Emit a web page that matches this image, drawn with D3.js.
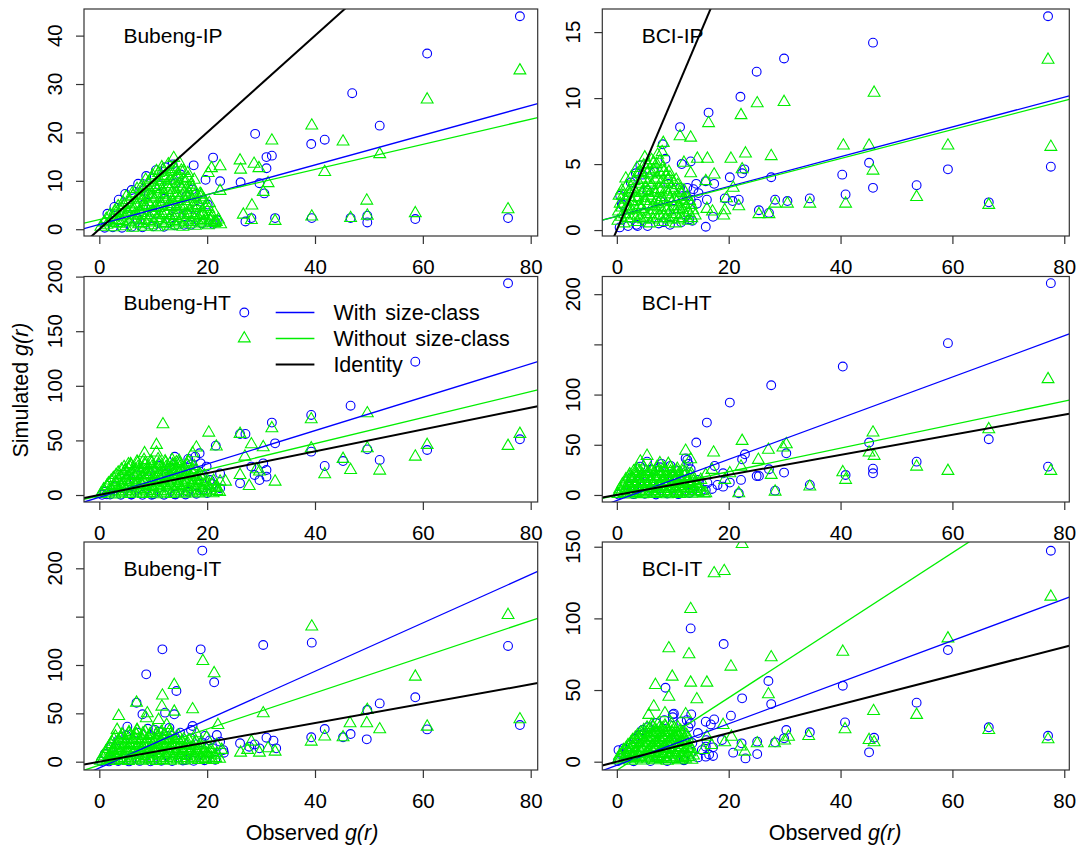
<!DOCTYPE html>
<html><head><meta charset="utf-8">
<script src="https://cdn.jsdelivr.net/npm/d3@7"></script>
<style>
body{margin:0;background:#fff}
svg text{font-family:Arial,"Liberation Sans",sans-serif;fill:#000}
</style></head>
<body><svg id="c" width="1078" height="848"></svg>
<script>
// ---------- DATA ----------
const panelNames = ["Bubeng-IP","BCI-IP","Bubeng-HT","BCI-HT","Bubeng-IT","BCI-IT"];
const legendLabels = ["With size-class","Without size-class","Identity"];
const xTickValues = [0,20,40,60,80];
const yTickValues = [[0,10,20,30,40],[0,5,10,15],[0,50,100,150,200],[0,50,100,150,200],[0,50,100,150,200],[0,50,100,150]];
const yTickLabels = [["0","10","20","30","40"],["0","5","10","15"],["0","50","100","150","200"],["0","50","100","","200"],["0","50","100","","200"],["0","50","100","150"]];
// fitted lines: [intercept, slope]
const withSizeClassFit = [[1.0,0.307],[1.05,0.1127],[-2.1,1.527],[-5.5,2.05],[-6.5,2.5],[-2.5,1.45]];
const withoutSizeClassFit = [[2.0,0.259],[1.04,0.1095],[-0.5,1.19],[-0.24,1.172],[-3.6,1.868],[-6,2.53]];
const identityFit = [0,1];

const bubengIP_with = [[78.0,44.0],[60.8,36.3],[46.9,28.1],[52.0,21.4],[28.9,19.7],[39.3,17.6],[41.8,18.5],[21.1,14.8],[32.0,15.2],[31.0,14.9],[31.0,12.6],[26.2,9.7],[29.7,9.5],[30.6,7.4],[22.4,9.9],[19.7,10.2],[17.5,13.2],[14.1,9.5],[8.7,11.0],[16.1,6.8],[19.2,6.1],[27.1,1.6],[28.2,2.3],[32.6,2.3],[39.4,2.3],[46.6,2.3],[49.7,2.8],[49.7,1.4],[58.6,2.1],[75.8,2.3],[21.8,1.9],[21.1,1.1],[15.7,0.9],
[1.5,3.2],[2.8,4.6],[3.6,6.1],[4.8,7.3],[6.0,8.1],[7.2,9.4],[10.5,12.2],[12.3,12.8],[13.6,13.4],[1.0,0.3],[2.5,0.4],[4.2,0.3],[6.0,0.5],[8.0,0.4],[10.0,0.6],[12.0,0.5],[14.0,0.8],[17.0,0.9],[19.0,1.2],[5.1,3.0],[8.2,5.1],[10.3,3.2],[12.1,6.3],[14.2,4.1],[16.3,3.1],[18.1,4.2],[11.2,9.1],[15.1,11.3],[17.2,8.2],[20.1,5.1],[13.1,2.2],[7.1,2.1],[9.2,7.2]];
const bubengIP_without = [[78.0,32.8],[60.8,26.8],[39.4,21.4],[32.0,18.3],[45.2,18.1],[52.0,15.5],[41.8,11.8],[26.1,14.2],[26.2,12.3],[28.7,13.5],[29.6,12.6],[31.3,9.5],[30.4,7.7],[22.4,13.0],[20.8,12.6],[20.2,11.6],[22.4,7.9],[13.8,14.7],[49.6,5.9],[28.3,4.9],[26.7,3.0],[28.2,1.9],[32.6,1.7],[39.4,2.6],[46.6,2.3],[49.7,2.8],[58.6,3.3],[75.8,4.1],[18.9,7.1],[17.6,10.2],[16.4,11.6],[19.2,3.0],[20.5,1.9],[21.5,1.6],
[0.3,0.5],[1.4,0.9],[2.6,0.4],[3.7,1.1],[4.9,0.6],[6.2,0.3],[7.3,1.0],[8.5,0.5],[9.6,0.8],[10.8,0.4],[12.0,1.0],[13.1,0.6],[14.3,0.9],[15.5,0.5],[16.6,1.1],[17.8,0.7],[19.0,1.2],[20.2,0.8],[21.4,1.3],[22.5,1.0],
[1.3,2.1],[2.5,2.5],[3.6,1.9],[4.8,2.6],[6.0,2.2],[7.1,2.8],[8.3,2.0],[9.4,2.6],[10.6,2.3],[11.8,2.9],[12.9,2.1],[14.1,2.7],[15.2,2.3],[16.4,2.9],[17.5,2.4],[18.7,2.8],[19.8,2.2],[21.0,2.6],[22.1,2.0],
[2.9,3.8],[4.1,4.3],[5.2,3.6],[6.4,4.2],[7.5,3.9],[8.7,4.5],[9.8,3.7],[11.0,4.4],[12.1,3.8],[13.3,4.6],[14.4,4.0],[15.6,4.5],[16.7,3.9],[17.9,4.4],[19.1,3.6],[20.3,4.2],[21.3,3.5],
[4.4,5.5],[5.6,6.0],[6.7,5.3],[7.9,6.1],[9.0,5.6],[10.2,6.3],[11.3,5.5],[12.5,6.2],[13.6,5.7],[14.8,6.4],[15.9,5.8],[17.1,6.3],[18.2,5.6],[19.4,6.1],[20.4,5.4],
[6.1,7.4],[7.3,7.0],[8.4,7.8],[9.6,7.2],[10.7,8.0],[11.9,7.4],[13.0,8.1],[14.2,7.5],[15.3,8.2],[16.5,7.6],[17.6,8.0],[18.7,7.3],
[7.9,9.0],[9.1,9.6],[10.2,9.1],[11.4,9.8],[12.5,9.3],[13.7,10.0],[14.8,9.4],[16.0,9.9],[17.0,9.2],
[9.9,11.1],[11.0,11.6],[12.2,11.0],[13.3,11.8],[14.5,11.3],[15.6,12.0],
[11.6,12.8],[12.8,13.4],[13.9,12.9],[14.9,13.6],
[0.9,1.4],[2.0,1.6],[3.2,1.3],[4.3,1.7],[5.5,1.4],[6.7,1.8],[7.8,1.3],[9.0,1.7],[10.1,1.4],[11.3,1.8],[12.4,1.3],[13.6,1.7],[14.8,1.4],[15.9,1.8],[17.1,1.5],[18.2,1.9],[19.4,1.6],[20.6,1.9],[21.7,1.5],
[2.0,3.0],[3.1,3.3],[4.3,2.9],[5.4,3.4],[6.6,3.0],[7.7,3.3],[8.9,2.9],[10.0,3.4],[11.2,3.0],[12.4,3.3],[13.5,2.9],[14.7,3.4],[15.8,3.0],[17.0,3.3],[18.1,2.9],[19.3,3.2],[20.5,2.8],
[3.5,4.7],[4.7,5.0],[5.8,4.6],[7.0,5.1],[8.1,4.7],[9.3,5.0],[10.4,4.6],[11.6,5.1],[12.7,4.8],[13.9,5.2],[15.0,4.8],[16.2,5.1],[17.3,4.7],[18.5,5.0],[19.6,4.6],
[5.0,6.7],[6.2,6.9],[7.3,6.5],[8.5,6.9],[9.6,6.6],[10.8,7.0],[11.9,6.6],[13.1,7.0],[14.2,6.7],[15.4,7.1],[16.5,6.7],[17.7,7.0],[18.8,6.6],
[7.0,8.3],[8.2,8.6],[9.3,8.2],[10.5,8.7],[11.6,8.3],[12.8,8.8],[13.9,8.4],[15.1,8.8],[16.2,8.4],[17.3,8.7],
[8.6,10.2],[9.8,10.5],[10.9,10.1],[12.1,10.6],[13.2,10.2],[14.4,10.7],[15.5,10.3],[16.5,10.6],
[10.6,12.0],[11.8,12.3],[12.9,11.9],[14.1,12.4],[15.2,12.1]];

const bciIP_with = [[77.1,16.2],[45.8,14.2],[29.9,13.0],[25.0,12.0],[22.1,10.1],[16.4,8.9],[11.3,7.8],[8.2,6.5],[8.7,5.4],[11.6,5.0],[13.2,5.2],[45.1,5.1],[77.6,4.8],[59.2,4.6],[22.8,4.6],[22.4,4.3],[20.2,4.0],[27.6,4.0],[40.3,4.2],[45.8,3.2],[53.6,3.4],[40.9,2.7],[14.2,3.5],[17.4,3.5],[15.9,3.7],[12.6,3.2],[13.2,2.3],[16.1,2.3],[19.3,2.4],[21.8,2.3],[20.7,2.2],[28.3,2.3],[30.5,2.2],[34.5,2.4],[66.5,2.1],[25.4,1.5],[27.2,1.3],[15.9,0.25],[17.2,1.0],[12.9,0.8],[8.3,0.6],[3.7,0.3],[4.6,4.2],[0.9,2.0],
[0.5,0.2],[2.0,0.3],[3.5,0.4],[5.5,0.3],[7.5,0.5],[9.5,0.4],[11.5,0.6],[13.5,0.7],[1.0,1.9],[0.6,2.6],[2.5,3.6],[3.4,4.3],[4.2,4.9],[5.5,3.0],[7.8,2.2],[10.2,1.6],[12.4,2.6],[14.3,2.0],[6.8,4.4],[9.2,3.5],[11.3,3.2],[13.7,3.1],[14.6,2.8]];
const bciIP_without = [[77.1,12.9],[46.0,10.4],[25.1,9.6],[29.9,9.7],[22.2,8.7],[16.4,8.1],[11.3,7.1],[13.2,7.0],[8.3,6.6],[77.6,6.3],[40.5,6.4],[45.1,6.4],[59.2,6.4],[27.6,5.6],[23.0,5.8],[20.4,5.4],[16.2,5.4],[14.4,5.4],[12.0,5.1],[13.2,4.3],[17.4,4.2],[22.4,4.6],[45.8,4.5],[20.8,3.2],[15.9,3.7],[53.6,2.5],[40.9,2.0],[34.5,2.0],[30.5,2.0],[28.3,2.0],[21.8,1.8],[19.3,1.5],[19.1,1.1],[16.1,1.6],[17.1,1.4],[25.4,1.2],[27.2,1.2],[66.5,1.9],[19.6,2.4],
[0.2,0.7],[1.3,0.5],[2.5,0.9],[3.6,0.6],[4.8,0.8],[5.9,0.5],[7.1,0.9],[8.2,0.6],[9.4,0.8],[10.5,0.5],[11.7,0.9],[12.8,0.7],
[0.3,1.4],[1.4,1.2],[2.6,1.5],[3.7,1.1],[4.9,1.4],[6.0,1.2],[7.2,1.5],[8.3,1.1],[9.5,1.4],[10.6,1.2],[11.8,1.5],[12.9,1.3],[14.0,1.1],
[0.6,2.0],[1.8,1.8],[2.9,2.1],[4.1,1.9],[5.2,2.2],[6.4,1.8],[7.5,2.0],[8.7,1.7],[9.8,2.1],[11.0,1.8],[12.1,2.0],[13.3,1.9],
[1.1,2.6],[2.3,2.8],[3.4,2.5],[4.6,2.9],[5.7,2.6],[6.9,2.8],[8.0,2.5],[9.2,2.7],[10.3,2.4],[11.5,2.8],[12.6,2.5],
[1.7,3.3],[2.9,3.1],[4.0,3.5],[5.2,3.2],[6.3,3.4],[7.5,3.1],[8.6,3.5],[9.8,3.2],[10.9,3.4],[12.0,3.0],
[2.6,4.0],[3.8,4.3],[4.9,3.9],[6.1,4.2],[7.2,3.9],[8.4,4.4],[9.5,4.0],[10.6,3.8],
[3.6,4.7],[4.8,4.9],[5.9,4.6],[7.1,5.0],[8.2,4.7],[9.3,4.4],
[5.0,5.5],[6.2,5.3],[7.3,5.7],[8.1,5.9],[0.4,2.6],[0.9,3.0],[1.6,3.9],
[0.8,1.0],[1.9,0.9],[3.1,1.1],[4.2,0.9],[5.4,1.0],[6.5,0.8],[7.7,1.1],[8.8,0.9],[10.0,1.0],[11.1,0.8],[12.3,1.1],[13.4,0.9],
[0.9,1.7],[2.0,1.5],[3.2,1.7],[4.3,1.6],[5.5,1.8],[6.6,1.5],[7.8,1.7],[8.9,1.5],[10.1,1.8],[11.2,1.6],[12.4,1.7],[13.6,1.5],
[1.5,2.3],[2.6,2.2],[3.8,2.4],[4.9,2.2],[6.1,2.4],[7.2,2.3],[8.4,2.2],[9.5,2.4],[10.7,2.1],[11.8,2.3],[13.0,2.2],
[2.1,2.9],[3.2,3.0],[4.4,2.8],[5.5,3.0],[6.7,2.9],[7.9,3.0],[9.0,2.9],[10.2,3.0],[11.3,2.9],
[3.1,3.7],[4.4,3.8],[5.6,3.6],[6.8,3.8],[7.9,3.6],[9.1,3.8],[10.2,3.6],
[4.2,4.4],[5.4,4.3],[6.6,4.5],[7.7,4.3],[8.8,4.2],
[5.4,5.0],[6.6,5.1],[7.7,5.2]];

const bubengHT_with = [[75.8,193.9],[58.6,122.1],[46.6,81.8],[39.3,73.3],[32.0,66.3],[26.1,55.9],[27.1,55.9],[32.6,47.3],[21.6,45.2],[49.7,41.8],[39.3,39.7],[60.8,41.2],[78.0,51.0],[52.0,32.1],[45.2,31.1],[41.8,26.6],[17.8,35.1],[18.6,38.2],[28.2,26.0],[30.4,29.0],[31.0,22.9],[28.8,18.3],[31.0,16.8],[29.7,13.7],[26.1,10.7],[22.4,19.8],[22.4,6.1],[16.4,3.0],[19.2,4.6],[14.1,0.4],[9.7,0.3],[5.9,0.5],[1.4,0.6],[19.9,26.0],[20.5,13.7],
[0.5,0.2],[2.0,0.5],[4.0,0.3],[6.0,0.4],[8.0,0.2],[10.0,0.6],[12.0,0.3],[14.0,0.8],[16.0,0.5],[18.0,1.2],[20.0,1.8],[1.0,3.0],[3.0,8.0],[5.0,14.0],[7.0,18.0],[9.0,22.0],[11.0,27.0],[13.0,25.0],[15.0,22.0],[17.0,28.0],[19.0,18.0],[21.0,10.0],[16.5,33.0],[14.0,35.0],[12.5,20.0],[18.8,29.0]];
const bubengHT_without = [[78.0,55.9],[75.8,44.9],[49.7,74.8],[39.3,69.3],[32.0,61.1],[26.1,55.9],[28.2,46.4],[30.4,43.7],[60.8,45.8],[58.6,35.1],[49.7,42.7],[39.3,42.7],[45.2,33.0],[27.0,35.1],[46.6,22.9],[52.0,22.3],[41.8,18.9],[29.7,21.4],[29.1,23.5],[26.1,18.3],[32.6,12.2],[27.8,8.2],[20.3,57.1],[11.8,64.7],[10.6,45.8],[10.6,38.8],[8.4,38.2],[5.4,28.1],[18.0,43.4],[17.3,38.2],[14.3,29.9],[21.7,44.3],[22.4,12.2],[21.7,7.6],[23.4,12.2],
[0.3,1],[1.6,2],[2.9,0.5],[4.2,1.5],[5.5,0.8],[6.8,2],[8.1,1],[9.4,1.8],[10.7,0.6],[12.0,1.5],[13.3,0.9],[14.6,2],[15.9,1.2],[17.2,2.2],[18.5,1.4],[19.8,2.5],[21.1,1.6],[22.3,2.8],
[0.8,5],[2.1,6.5],[3.4,5.5],[4.7,7],[6.0,5.8],[7.3,6.8],[8.6,5.3],[9.9,7.2],[11.2,6],[12.5,7.5],[13.8,5.6],[15.1,6.9],[16.4,5.9],[17.7,7.3],[19.0,6.2],[20.3,7.7],[21.6,6.5],
[1.7,10.5],[3.0,11.8],[4.3,10.2],[5.6,12],[6.9,11],[8.2,12.5],[9.5,10.6],[10.8,12.2],[12.1,11],[13.4,12.6],[14.7,10.8],[16.0,12.1],[17.3,11.2],[18.6,12.8],[19.9,11.5],[21.2,13],
[2.6,15.5],[3.9,17],[5.2,15.8],[6.5,17.3],[7.8,16],[9.1,17.6],[10.4,15.7],[11.7,17.2],[13.0,16.1],[14.3,17.5],[15.6,15.9],[16.9,17.1],[18.2,16.3],[19.5,17.8],
[3.5,20.5],[4.8,22],[6.1,20.8],[7.4,22.4],[8.7,21],[10.0,22.6],[11.3,20.7],[12.6,22.2],[13.9,21.1],[15.2,22.5],[16.5,21],[17.8,22.3],
[4.6,25.5],[5.9,27],[7.2,25.8],[8.5,27.3],[9.8,26],[11.1,27.6],[12.4,25.7],[13.7,27.2],[15.0,26.1],[16.3,27],[17.6,26.4],
[7.0,30.5],[8.3,32],[9.6,31],[10.9,32.6],[12.2,30.8],[13.5,32.1],[14.8,31.2],[16.5,30.4],
[1.0,3.2],[2.3,3.8],[3.6,3.0],[4.9,3.9],[6.2,3.3],[7.5,4.0],[8.8,3.1],[10.1,3.7],[11.4,3.3],[12.7,3.9],[14.0,3.2],[15.3,3.8],[16.6,3.4],[17.9,4.1],[19.2,3.5],[20.5,4.2],[21.8,3.6],
[1.4,8.2],[2.7,9.0],[4.0,8.3],[5.3,9.1],[6.6,8.4],[7.9,9.2],[9.2,8.1],[10.5,8.9],[11.8,8.5],[13.1,9.3],[14.4,8.2],[15.7,9.0],[17.0,8.6],[18.3,9.4],[19.6,8.7],[20.9,9.5],
[2.2,13.2],[3.5,14.0],[4.8,13.3],[6.1,14.1],[7.4,13.4],[8.7,14.2],[10.0,13.1],[11.3,13.9],[12.6,13.5],[13.9,14.3],[15.2,13.2],[16.5,14.0],[17.8,13.6],[19.1,14.4],
[3.1,18.2],[4.4,19.0],[5.7,18.3],[7.0,19.1],[8.3,18.4],[9.6,19.2],[10.9,18.1],[12.2,18.9],[13.5,18.5],[14.8,19.3],[16.1,18.2],[17.4,19.0],[18.7,18.6],
[4.1,23.2],[5.4,24.0],[6.7,23.3],[8.0,24.1],[9.3,23.4],[10.6,24.2],[11.9,23.1],[13.2,23.9],[14.5,23.5],[15.8,24.3],[17.1,23.2],
[5.8,28.2],[7.1,29.0],[8.4,28.3],[9.7,29.1],[11.0,28.4],[12.3,29.2],[13.6,28.1],[14.9,28.9],[16.2,28.5]];

const bciHT_with = [[77.6,211],[59.2,151.2],[40.4,127.9],[27.6,109.3],[20.2,92.0],[16.1,72.1],[14.2,52.2],[45.1,52.2],[66.5,55.5],[30.3,41.5],[22.9,40.5],[22.4,35.5],[53.6,33.2],[77.1,28.2],[45.8,26.2],[45.8,21.6],[40.9,19.9],[27.2,25.6],[29.9,22.3],[25.0,18.9],[25.4,18.9],[22.2,15.0],[19.0,21.6],[17.5,28.9],[19.0,8.3],[20.2,12.3],[34.5,10.0],[28.3,4.3],[21.8,1.7],[12.3,36.5],[12.6,34.9],[5.4,33.2],[4.2,28.2],[7.7,27.6],[13.2,25.6],[10.7,15],[13.2,5.0],[15.9,5.0],[4.6,8.3],
[0.3,0.4],[1.5,2.5],[3,0.8],[5,1.2],[7,0.5],[9,1.5],[11,0.8],[13,2],[15,3],[17,6],[2.2,8],[3.5,13],[5.2,20],[6.3,25],[8,31],[9.6,29],[11,24],[12.8,31],[14.5,15],[16.2,12],[18,10],[2.6,17],[7.5,10],[10,18]];
const bciHT_without = [[77.1,115.3],[45.8,62.1],[66.5,65.4],[22.4,53.8],[30.3,50.5],[27.1,44.9],[17.3,42.2],[12.3,43.9],[5.4,38.9],[4.2,33.2],[7.7,31.6],[9.2,30.9],[13.2,35.5],[25.3,34.9],[29.7,47.2],[45.1,42.2],[46.0,38.9],[53.6,28.2],[59.2,23.9],[77.6,23.9],[40.4,22.6],[40.9,15.0],[27.6,19.9],[22.2,28.2],[17.0,24.9],[15.9,19.9],[15.0,15.0],[34.5,8.3],[28.3,3.3],[21.8,1.7],[15.9,1.7],[10.7,1.7],[20.2,21.6],[19.3,15],
[0.2,1],[1.3,2],[2.4,0.5],[3.5,1.8],[4.6,0.8],[5.7,2.2],[6.8,1],[7.9,2],[9.0,0.6],[10.1,1.7],[11.2,0.9],[12.3,2.1],[13.4,1.2],[14.5,2.4],[15.6,1.5],
[0.5,5.5],[1.6,7],[2.7,5.8],[3.8,7.2],[4.9,5.4],[6.0,6.9],[7.1,5.7],[8.2,7.4],[9.3,6],[10.4,7.1],[11.5,5.6],[12.6,6.8],[13.7,5.9],[14.8,7.3],
[1.0,10.5],[2.1,12],[3.2,10.8],[4.3,12.3],[5.4,11],[6.5,12.5],[7.6,10.6],[8.7,12.1],[9.8,11.2],[10.9,12.6],[12.0,10.9],[13.1,12.2],[14.2,11],
[1.6,15.5],[2.7,17],[3.8,15.8],[4.9,17.3],[6.0,16],[7.1,17.6],[8.2,15.7],[9.3,17.2],[10.4,16.1],[11.5,17.5],[12.6,15.9],[13.7,17],
[2.3,20.5],[3.4,22],[4.5,20.8],[5.6,22.4],[6.7,21],[7.8,22.6],[8.9,20.7],[10.0,22.2],[11.1,21.1],[12.2,22.5],[13.3,21],
[3.6,26],[4.8,27.5],[6.0,26.2],[7.2,27.8],[8.4,26.5],[9.6,27.4],[10.8,26],[12.0,27.7],
[0.8,3.4],[1.9,3.9],[3.0,3.2],[4.1,3.8],[5.2,3.3],[6.3,3.9],[7.4,3.4],[8.5,3.8],[9.6,3.2],[10.7,3.7],[11.8,3.3],[12.9,3.9],[14.0,3.5],[15.1,3.8],
[1.1,8.3],[2.2,8.8],[3.3,8.2],[4.4,8.7],[5.5,8.4],[6.6,8.9],[7.7,8.2],[8.8,8.6],[9.9,8.3],[11.0,8.8],[12.1,8.4],[13.2,8.9],[14.3,8.5],
[1.6,13.3],[2.7,13.8],[3.8,13.2],[4.9,13.7],[6.0,13.4],[7.1,13.9],[8.2,13.2],[9.3,13.6],[10.4,13.3],[11.5,13.8],[12.6,13.4],[13.7,13.9],
[2.2,18.4],[3.3,18.9],[4.4,18.2],[5.5,18.7],[6.6,18.4],[7.7,18.9],[8.8,18.2],[9.9,18.6],[11.0,18.3],[12.1,18.8],[13.2,18.5],
[3.0,23.4],[4.1,23.9],[5.2,23.2],[6.3,23.7],[7.4,23.4],[8.5,23.9],[9.6,23.2],[10.7,23.6],[11.8,23.3]];

const bubengIT_with = [[19.1,218.3],[11.7,116.2],[18.8,116.2],[30.4,120.7],[39.4,123.1],[75.8,119.7],[8.7,90.3],[21.3,82.1],[14.3,73.1],[6.9,61.0],[8.0,49.0],[13.9,49.0],[12.2,50.7],[58.6,66.6],[52.0,60.3],[49.7,53.4],[5.2,36.2],[17.3,36.9],[17.0,32.8],[78.0,37.9],[60.8,33.4],[41.8,33.8],[46.6,28.6],[39.3,25.2],[45.2,25.2],[49.6,23.1],[21.8,27.6],[19.6,26.6],[31.0,24.8],[32.3,21.7],[32.8,13.8],[28.8,17.9],[26.1,19.0],[29.7,13.8],[27.8,15.5],[23.1,9.3],[22.4,20.7],[14.1,24.1],[10.3,32.8],[10,1.7],[5.9,1.7],[2.0,2.4],[16,1.7],
[0.3,0.4],[1.8,0.3],[3.5,0.6],[5.5,0.3],[7.5,0.8],[9.5,0.4],[11.5,0.9],[13.5,0.6],[15.5,1.2],[17.5,0.9],[19.5,1.5],[21.5,2],[1,8],[2.2,15],[3.5,22],[5,27],[7,30],[9,34],[11,31],[13,35],[15,30],[17,24],[19,20],[21,14],[23,12],[20.5,22]];
const bubengIT_without = [[39.4,139.7],[75.8,151.7],[19.2,104.1],[21.3,91.4],[58.6,87.9],[13.9,79.3],[11.7,68.3],[6.9,61.0],[11.6,56.9],[17.3,54.1],[8.9,50.0],[30.4,50.0],[13.9,51.7],[3.6,47.2],[8.7,44.8],[49.7,53.4],[49.6,39.7],[46.5,39.7],[78.0,43.8],[60.8,36.2],[52.0,33.4],[22.0,37.9],[3.3,32.8],[7.0,32.8],[12.5,37.9],[11.0,43.1],[41.8,25.9],[45.2,25.2],[39.3,20.7],[19.9,24.8],[18.0,29.3],[21.8,17.2],[26.2,9.3],[28.2,20.7],[29.7,9.3],[32.6,10.3],[31.3,13.8],[27.5,12.1],[19.9,8.6],[21.8,8.6],[22.7,12.1],
[0.2,1],[1.5,2],[2.8,0.6],[4.1,1.8],[5.4,0.8],[6.7,2.1],[8.0,1],[9.3,2],[10.6,0.7],[11.9,1.8],[13.2,1],[14.5,2.2],[15.8,1.3],[17.1,2.4],[18.4,1.6],[19.7,2.6],[21.0,1.8],[22.3,3],
[0.6,5.5],[1.9,7],[3.2,5.8],[4.5,7.2],[5.8,5.5],[7.1,7],[8.4,5.7],[9.7,7.3],[11.0,6],[12.3,7.1],[13.6,5.6],[14.9,6.8],[16.2,5.9],[17.5,7.3],[18.8,6.2],[20.1,7.5],[21.4,6.6],
[1.2,10.5],[2.5,12],[3.8,10.8],[5.1,12.3],[6.4,11],[7.7,12.5],[9.0,10.6],[10.3,12.1],[11.6,11.2],[12.9,12.6],[14.2,10.9],[15.5,12.2],[16.8,11],[18.1,12.4],[19.4,11.3],[20.7,12.8],
[1.8,15.5],[3.1,17],[4.4,15.8],[5.7,17.3],[7.0,16],[8.3,17.6],[9.6,15.7],[10.9,17.2],[12.2,16.1],[13.5,17.5],[14.8,15.9],[16.1,17],[17.4,16.2],[18.7,17.4],
[2.3,20.5],[3.6,22],[4.9,20.8],[6.2,22.4],[7.5,21],[8.8,22.6],[10.1,20.7],[11.4,22.2],[12.7,21.1],[14.0,22.5],[15.3,21],[16.6,22.3],[17.9,21.2],
[3.0,26],[4.3,27.5],[5.6,26.2],[6.9,27.8],[8.2,26.5],[9.5,27.4],[10.8,26],[12.1,27.7],[13.4,26.3],[14.7,27],
[5.5,30.5],[7.0,32],[8.5,31],[10.0,32.5],[11.5,30.8],[13.0,31.5],
[0.8,3.2],[2.1,3.8],[3.4,3.0],[4.7,3.9],[6.0,3.3],[7.3,4.0],[8.6,3.1],[9.9,3.7],[11.2,3.3],[12.5,3.9],[13.8,3.2],[15.1,3.8],[16.4,3.4],[17.7,4.1],[19.0,3.5],[20.3,4.2],[21.6,3.6],
[1.2,8.2],[2.5,9.0],[3.8,8.3],[5.1,9.1],[6.4,8.4],[7.7,9.2],[9.0,8.1],[10.3,8.9],[11.6,8.5],[12.9,9.3],[14.2,8.2],[15.5,9.0],[16.8,8.6],[18.1,9.4],[19.4,8.7],[20.7,9.5],
[1.6,13.2],[2.9,14.0],[4.2,13.3],[5.5,14.1],[6.8,13.4],[8.1,14.2],[9.4,13.1],[10.7,13.9],[12.0,13.5],[13.3,14.3],[14.6,13.2],[15.9,14.0],[17.2,13.6],[18.5,14.4],[19.8,13.7],
[2.1,18.2],[3.4,19.0],[4.7,18.3],[6.0,19.1],[7.3,18.4],[8.6,19.2],[9.9,18.1],[11.2,18.9],[12.5,18.5],[13.8,19.3],[15.1,18.2],[16.4,19.0],[17.7,18.6],
[2.7,23.2],[4.0,24.0],[5.3,23.3],[6.6,24.1],[7.9,23.4],[9.2,24.2],[10.5,23.1],[11.8,23.9],[13.1,23.5],[14.4,24.3],[15.7,23.2],
[4.2,28.2],[5.5,29.0],[6.8,28.3],[8.1,29.1],[9.4,28.4],[10.7,29.2],[12.0,28.1],[13.3,28.9]];

const bciIT_with = [[77.6,147.2],[13.2,93.0],[19.1,82.1],[59.2,77.9],[8.7,51.6],[40.4,53.0],[27.1,56.3],[27.6,40.2],[22.4,44.2],[53.6,41.2],[20.4,32.1],[17.4,29.5],[15.9,27.9],[40.8,27.4],[10.0,33.0],[13.2,26.7],[30.3,22.1],[34.5,20.5],[66.5,24.0],[77.1,18.1],[46.0,16.7],[45.1,6.5],[29.9,16.3],[28.3,13.5],[25.1,14.0],[25.1,5.3],[22.3,12.8],[20.8,6.3],[23.0,2.3],[18.8,15.1],[15.9,10.5],[15.9,3.5],[17.2,4.0],[12.0,1.2],[0.3,8.1],[1.2,9.3],[4.0,18.6],[4.6,22.1],
[0.2,0.5],[0.8,5],[1.8,7],[2.5,12],[3.2,16],[4.5,19],[5.5,24],[7,27],[8.5,29],[10,31],[11.5,28],[12.8,24],[14.5,20],[16,15],[17.2,10],[16.5,5],[14.5,3],[12,1],[9,0.5],[6,0.4],[3,0.3],[13.5,13],[15.2,8],[11,18],[7,20],[16.8,26],[13.3,33],[10.2,33.5],[12.5,29]];
const bciIT_without = [[22.4,151.9],[17.4,131.4],[19.2,133.0],[13.2,106.5],[77.6,115.1],[59.2,86.0],[9.3,79.1],[12.9,74.9],[27.6,72.8],[40.4,76.7],[20.4,66.3],[9.9,59.3],[6.9,53.5],[13.2,55.1],[16.1,55.1],[9.3,45.3],[14.3,43.5],[27.1,47.0],[6.6,38.4],[5.7,32.6],[8.6,33.7],[12.3,33.0],[45.9,35.3],[53.6,32.6],[19.0,25.6],[40.8,22.6],[66.5,22.1],[34.3,17.9],[30.7,17.4],[30.0,14.7],[45.1,15.1],[46.0,13.5],[77.1,15.6],[25.1,12.8],[28.2,12.8],[22.1,10.5],[22.9,7.0],[19.3,13.5],[15.5,8.1],[16.9,11.6],[16.1,17.4],[20.5,17.4],
[0.2,1],[1.3,2],[2.4,0.6],[3.5,1.7],[4.6,0.8],[5.7,2],[6.8,1],[7.9,1.9],[9.0,0.7],[10.1,1.8],[11.2,1],[12.3,2.1],[13.4,1.3],
[0.5,4.3],[1.6,5.2],[2.7,4],[3.8,5.4],[4.9,4.2],[6.0,5.1],[7.1,4],[8.2,5.3],[9.3,4.4],[10.4,5.5],[11.5,4.1],[12.6,5],[13.7,4.3],
[1.2,8],[2.3,9],[3.4,7.7],[4.5,9.1],[5.6,7.9],[6.7,9.2],[7.8,7.6],[8.9,8.9],[10.0,8],[11.1,9.3],[12.2,7.8],[13.3,8.7],
[2.0,11.5],[3.1,12.5],[4.2,11.2],[5.3,12.6],[6.4,11.4],[7.5,12.7],[8.6,11.1],[9.7,12.4],[10.8,11.6],[11.9,12.8],[13.0,11.3],
[2.8,15],[3.9,16],[5.0,14.8],[6.1,16.2],[7.2,15],[8.3,16.3],[9.4,14.7],[10.5,16],[11.6,15.2],[12.7,16.1],
[3.7,18.5],[4.8,19.6],[5.9,18.2],[7.0,19.7],[8.1,18.4],[9.2,19.8],[10.3,18.3],[11.4,19.5],[12.5,18.6],
[4.8,22],[5.9,23],[7.0,21.8],[8.1,23.2],[9.2,22],[10.3,23.1],[11.4,21.7],
[6.2,25.5],[7.4,26.5],[8.6,25.2],[9.8,26.3],
[0.7,2.7],[1.8,3.0],[2.9,2.6],[4.0,3.1],[5.1,2.7],[6.2,3.0],[7.3,2.6],[8.4,3.1],[9.5,2.8],[10.6,3.0],[11.7,2.6],[12.8,3.1],
[1.0,6.2],[2.1,6.6],[3.2,6.0],[4.3,6.5],[5.4,6.1],[6.5,6.6],[7.6,6.0],[8.7,6.4],[9.8,6.2],[10.9,6.6],[12.0,6.0],[13.1,6.5],
[1.7,9.7],[2.8,10.1],[3.9,9.5],[5.0,10.0],[6.1,9.6],[7.2,10.2],[8.3,9.5],[9.4,10.0],[10.5,9.7],[11.6,10.1],[12.7,9.6],
[2.5,13.2],[3.6,13.6],[4.7,13.0],[5.8,13.5],[6.9,13.1],[8.0,13.6],[9.1,13.0],[10.2,13.5],[11.3,13.2],[12.4,13.6],
[3.3,16.8],[4.4,17.2],[5.5,16.6],[6.6,17.1],[7.7,16.7],[8.8,17.2],[9.9,16.6],[11.0,17.0],[12.1,16.8],
[4.3,20.3],[5.4,20.7],[6.5,20.1],[7.6,20.6],[8.7,20.2],[9.8,20.7],[10.9,20.2],[12.0,20.5],
[5.4,23.8],[6.5,24.2],[7.6,23.6],[8.7,24.1],[9.8,23.8],[10.9,24.0]];

const withSeries = [bubengIP_with,bciIP_with,bubengHT_with,bciHT_with,bubengIT_with,bciIT_with];
const withoutSeries = [bubengIP_without,bciIP_without,bubengHT_without,bciHT_without,bubengIT_without,bciIT_without];

// ---------- LAYOUT ----------
const frames = [
 {x0:84,   x1:537.7,  y0:9,     y1:236, xd:[-2.84,81.3], yd:[-1.4,45.5]},
 {x0:602.3,x1:1069.3, y0:9,     y1:236, xd:[-2.6,80.9],  yd:[-0.45,16.75]},
 {x0:84,   x1:537.7,  y0:276.5, y1:502, xd:[-2.84,81.3], yd:[-6.4,200.1]},
 {x0:602.3,x1:1069.3, y0:276.5, y1:502, xd:[-2.6,80.9],  yd:[-7,217.6]},
 {x0:84,   x1:537.7,  y0:542,   y1:770, xd:[-2.84,81.3], yd:[-8.6,227.2]},
 {x0:602.3,x1:1069.3, y0:542,   y1:770, xd:[-2.6,80.9],  yd:[-5.8,153.3]}
];
const BLUE = "#0000ff", GREEN = "#00ee00";
const R = 4.4;
const triPath = `M0,${-1.555*R}L${1.347*R},${0.778*R}L${-1.347*R},${0.778*R}Z`;

const svg = d3.select("#c");
const defs = svg.append("defs");

frames.forEach((f, i) => {
  const x = d3.scaleLinear().domain(f.xd).range([f.x0, f.x1]);
  const y = d3.scaleLinear().domain(f.yd).range([f.y1, f.y0]);
  const g = svg.append("g");
  defs.append("clipPath").attr("id", "clip" + i).append("rect")
    .attr("x", f.x0).attr("y", f.y0).attr("width", f.x1 - f.x0).attr("height", f.y1 - f.y0);
  const plot = g.append("g").attr("clip-path", `url(#clip${i})`);

  plot.selectAll("circle.w").data(withSeries[i]).join("circle").attr("class","w")
    .attr("cx", d => x(d[0])).attr("cy", d => y(d[1])).attr("r", R)
    .attr("fill", "none").attr("stroke", BLUE).attr("stroke-width", 1.1);
  plot.selectAll("path.wo").data(withoutSeries[i]).join("path").attr("class","wo")
    .attr("d", triPath).attr("transform", d => `translate(${x(d[0])},${y(d[1])})`)
    .attr("fill", "none").attr("stroke", GREEN).attr("stroke-width", 1.1);

  const line = d3.line().x(d => x(d[0])).y(d => y(d[1]));
  const fitLine = (fit) => f.xd.map(v => [v, fit[0] + fit[1] * v]);
  plot.append("path").attr("d", line(fitLine(withSizeClassFit[i]))).attr("stroke", BLUE).attr("stroke-width", 1.3).attr("fill","none");
  plot.append("path").attr("d", line(fitLine(withoutSizeClassFit[i]))).attr("stroke", GREEN).attr("stroke-width", 1.3).attr("fill","none");
  plot.append("path").attr("d", line(fitLine(identityFit))).attr("stroke", "#000").attr("stroke-width", 2).attr("fill","none");

  g.append("rect").attr("x", f.x0).attr("y", f.y0).attr("width", f.x1 - f.x0).attr("height", f.y1 - f.y0)
    .attr("fill", "none").attr("stroke", "#333").attr("stroke-width", 1.2);

  // x axis
  const xa = g.append("g").attr("transform", `translate(0,${f.y1})`)
    .call(d3.axisBottom(x).tickValues(xTickValues).tickSize(8).tickPadding(15.3).tickFormat(d3.format("d")));
  xa.select(".domain").remove();
  xa.selectAll("line").attr("stroke", "#333").attr("stroke-width", 1.2);
  xa.selectAll("text").attr("font-size", "20.5px").attr("font-family", "Arial, 'Liberation Sans', sans-serif").attr("fill","#000");

  // y axis
  const ya = g.append("g").attr("transform", `translate(${f.x0},0)`)
    .call(d3.axisLeft(y).tickValues(yTickValues[i]).tickSize(8).tickFormat(""));
  ya.select(".domain").remove();
  ya.selectAll("line").attr("stroke", "#333").attr("stroke-width", 1.2);
  g.selectAll("text.yl").data(yTickValues[i]).join("text").attr("class","yl")
    .attr("transform", d => `translate(${f.x0 - 22},${y(d)}) rotate(-90)`)
    .attr("text-anchor", "middle").attr("font-size", "20.5px")
    .text((d, j) => yTickLabels[i][j]);

  g.append("text").attr("x", f.x0 + 39.4).attr("y", f.y0 + 33.5)
    .attr("font-size", "21px").text(panelNames[i]);
});

// legend (in Bubeng-HT panel)
const lg = svg.append("g").attr("font-size", "21.5px");
const lgRows = [312.5, 338.5, 364.5];
lg.append("circle").attr("cx", 244.3).attr("cy", lgRows[0]).attr("r", R).attr("fill","none").attr("stroke", BLUE).attr("stroke-width",1.1);
lg.append("path").attr("d", triPath).attr("transform", `translate(244.3,${lgRows[1]})`).attr("fill","none").attr("stroke", GREEN).attr("stroke-width",1.1);
[BLUE, GREEN, "#000"].forEach((c, k) => {
  lg.append("line").attr("x1", 275.7).attr("x2", 314.4).attr("y1", lgRows[k]).attr("y2", lgRows[k])
    .attr("stroke", c).attr("stroke-width", k === 2 ? 2 : 1.3);
  lg.append("text").attr("x", 333.4).attr("y", lgRows[k] + 7.5).attr("word-spacing", "3px").text(legendLabels[k]);
});

// axis titles
const obsTitle = (cx) => {
  const t = svg.append("text").attr("x", cx).attr("y", 840).attr("text-anchor", "middle").attr("font-size", "21.5px");
  t.append("tspan").text("Observed ");
  t.append("tspan").attr("font-style", "italic").text("g(r)");
};
obsTitle(312);
obsTitle(835);
const st = svg.append("text").attr("transform", "translate(28,390) rotate(-90)").attr("text-anchor","middle").attr("font-size","21.5px");
st.append("tspan").text("Simulated ");
st.append("tspan").attr("font-style","italic").text("g(r)");
</script>
</body></html>
